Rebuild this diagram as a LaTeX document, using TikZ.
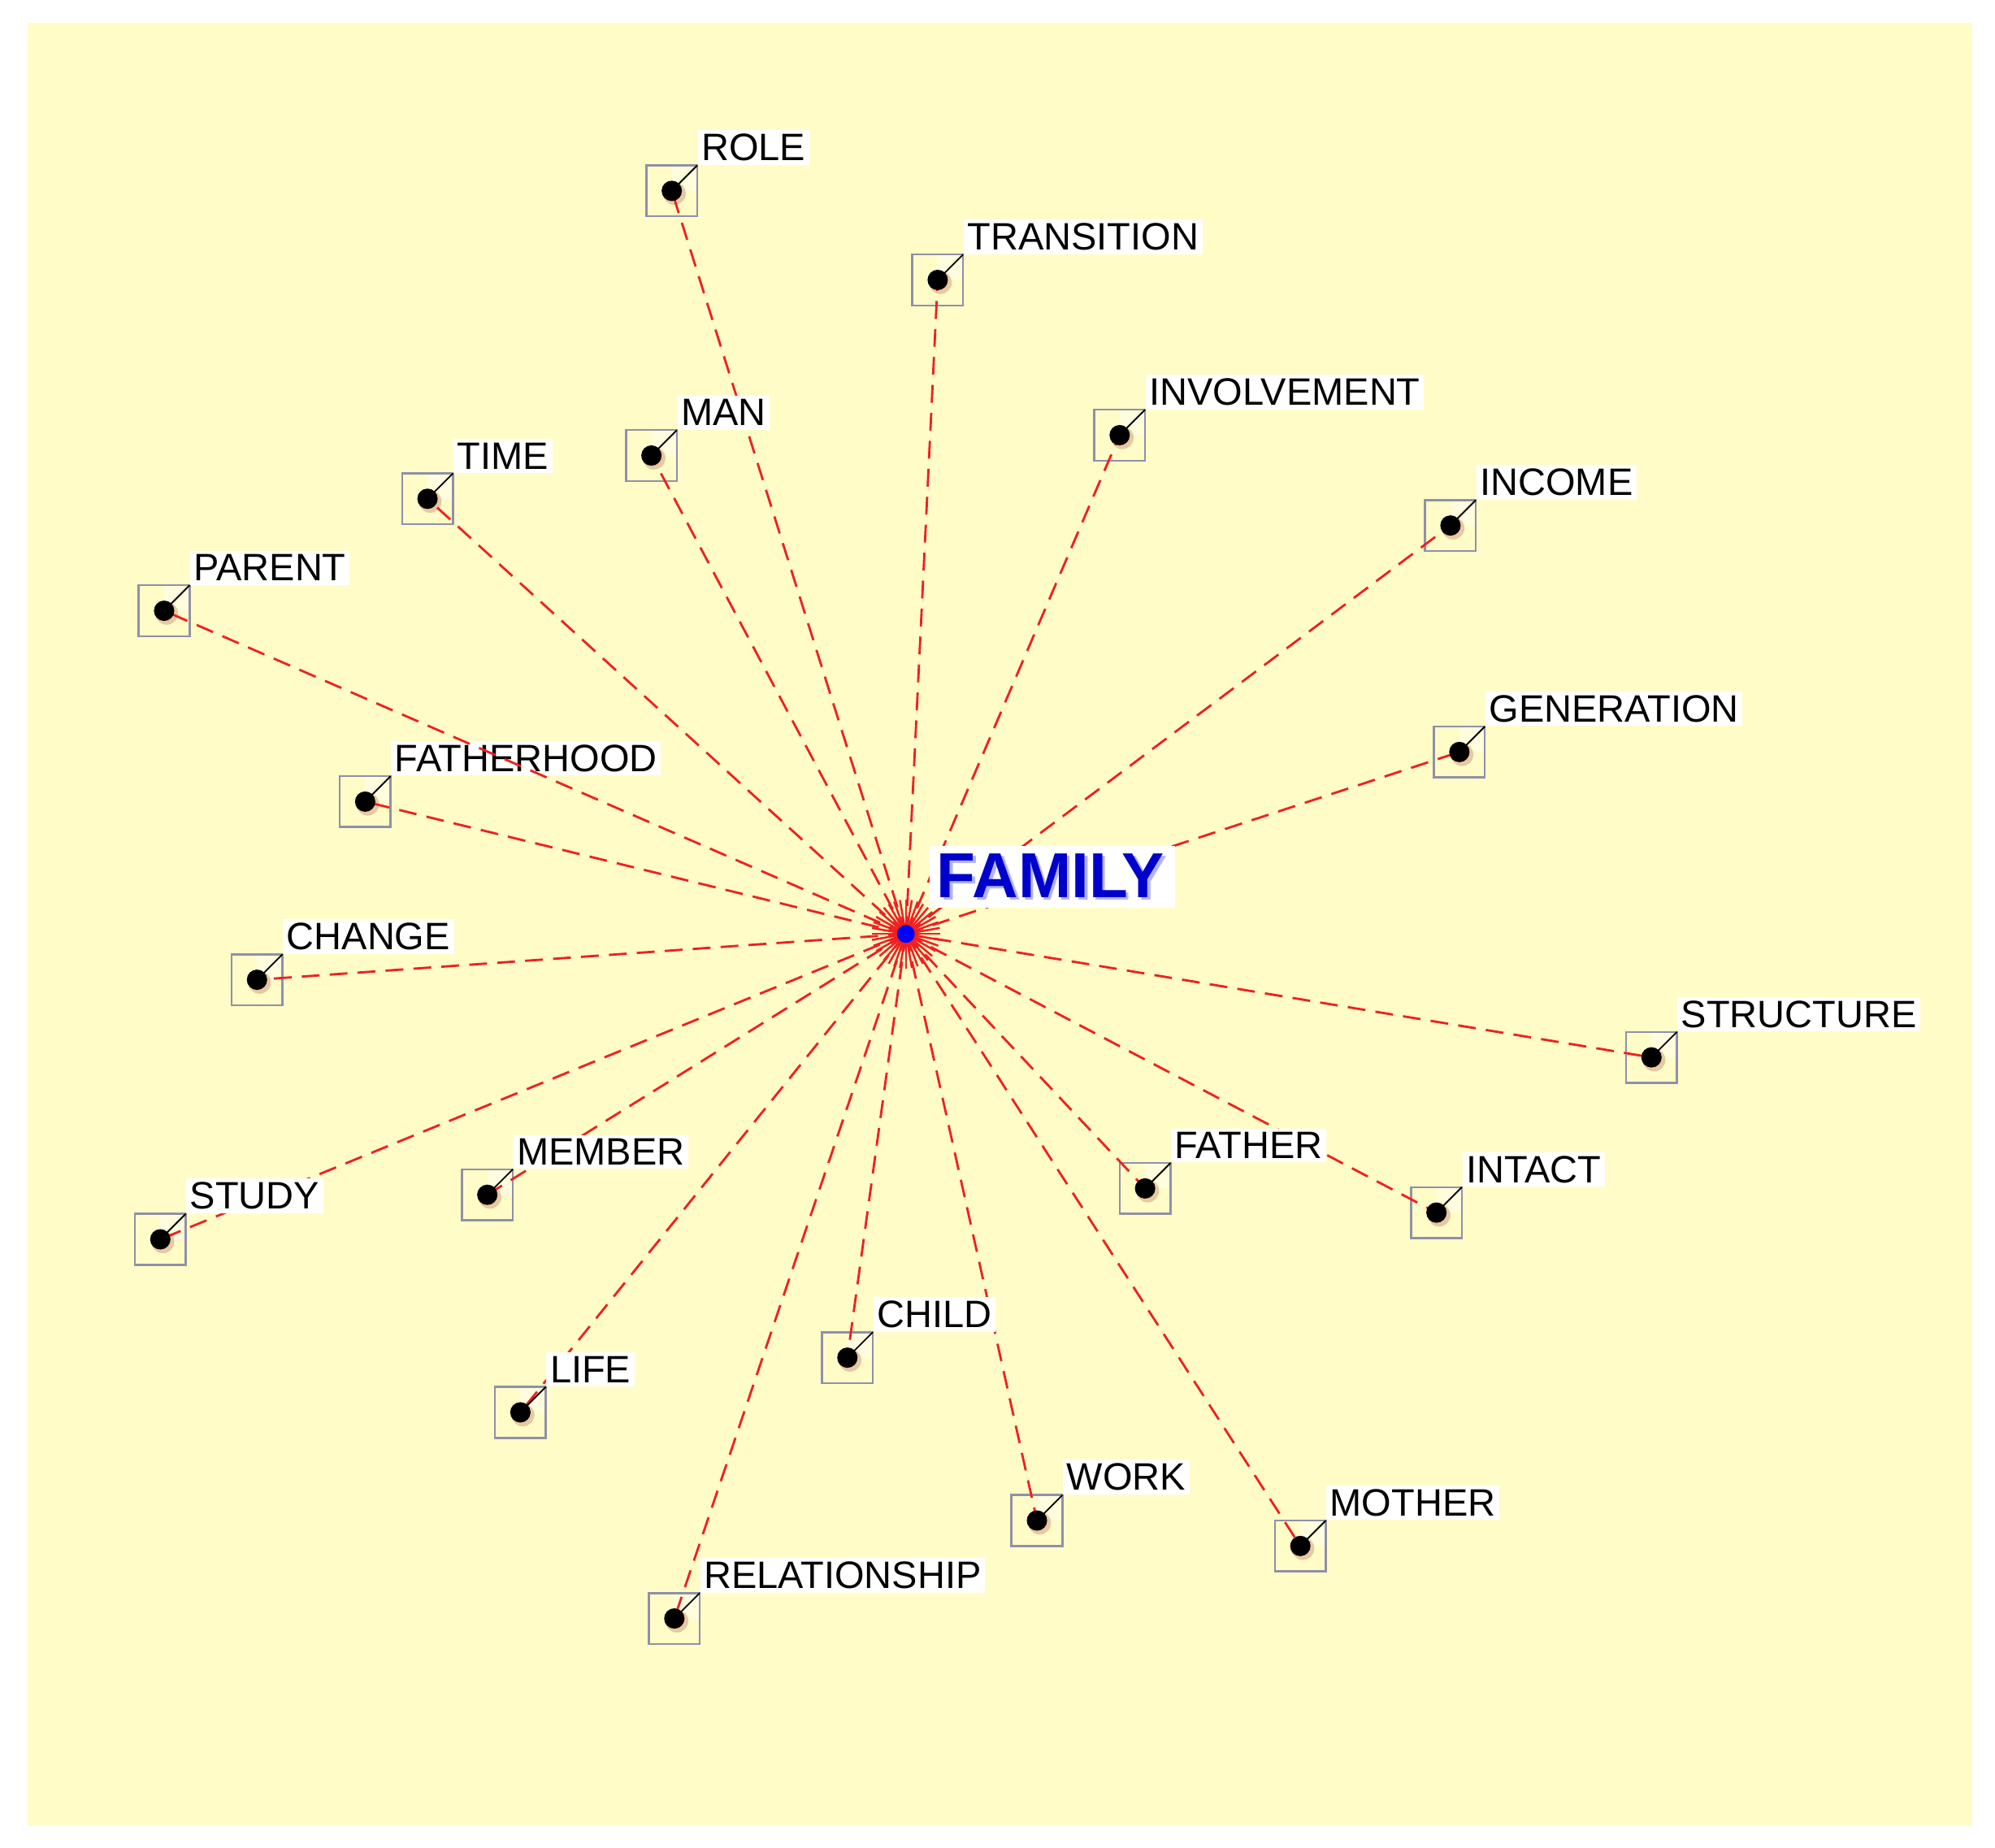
\documentclass[tikz,border=0pt]{standalone}
\usepackage{fontspec}
\setmainfont{Liberation Sans}
\definecolor{bgy}{HTML}{FFFCC8}
\definecolor{lnred}{HTML}{F02020}
\definecolor{boxg}{HTML}{9090A8}
\definecolor{halo}{HTML}{E8C8A0}
\begin{document}
\begin{tikzpicture}[x=0.5pt,y=-0.5pt,
  lbl/.style={anchor=south west,fill=white,inner sep=1.5pt,font=\fontsize{15}{17}\selectfont},
  link/.style={draw=lnred,dashed,dash pattern=on 7pt off 4pt,line width=0.9pt},
  term/.style={circle,fill=black,inner sep=0pt,minimum size=8pt}]
\fill[white] (0,0) rectangle (1568,1452);
\useasboundingbox (0,0) rectangle (1568,1452);
\fill[bgy] (22,18) rectangle (1550,1435);
\coordinate (c) at (712,734);
\foreach \a in {0,10,...,350}{\draw[lnred,line width=0.8pt] (c) -- ++(\a:27);}
\foreach \n/\x/\y/\t in {
 role/528/150/ROLE, trans/737/220/TRANSITION, invol/880/342/INVOLVEMENT,
 income/1140/413/INCOME, gen/1147/591/GENERATION, struct/1298/831/STRUCTURE,
 intact/1129/953/INTACT, father/900/934/FATHER, mother/1022/1215/MOTHER,
 work/815/1195/WORK, child/666/1067/CHILD, rel/530/1272/RELATIONSHIP,
 life/409/1110/LIFE, member/383/939/MEMBER, study/126/974/STUDY,
 change/202/770/CHANGE, fhood/287/630/FATHERHOOD, parent/129/480/PARENT,
 time/336/392/TIME, man/512/358/MAN}{
  \fill[bgy!60!white] (\x,\y) rectangle ++(20,-20);
  \draw[boxg,line width=0.8pt] (\x-20,\y-20) rectangle (\x+20,\y+20);
  \fill[halo] (\x+2,\y+2) circle (9);
  \draw[link] (c) -- (\x,\y);
  \node[term] (\n) at (\x,\y) {};
  \draw[black,line width=0.6pt] (\n.center) -- (\x+20,\y-20);
  \node[lbl] (\n l) at (\x+20,\y-20) {\t};
}
\fill[blue] (c) circle (7);
\node[anchor=south west,fill=white,inner sep=3pt,font=\bfseries\fontsize{25}{28}\selectfont] (fam) at (730,714)
  {\tikz[baseline]{\node[inner sep=0,text=blue!30,anchor=base] at (1.2pt,-1.2pt){FAMILY};\node[inner sep=0,text=blue!80!black,anchor=base] at (0,0){FAMILY};}};
\end{tikzpicture}
\end{document}
